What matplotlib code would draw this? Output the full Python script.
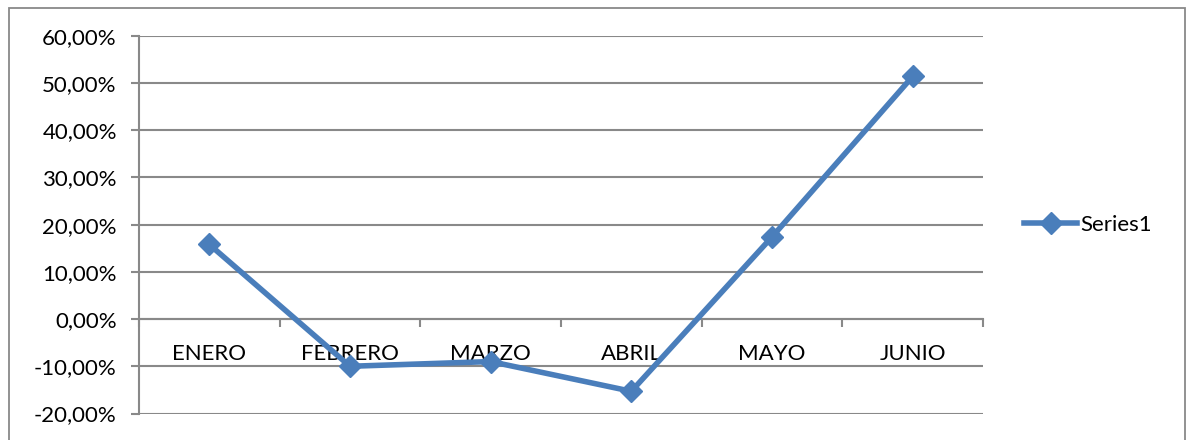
"""Monthly variation line chart (Excel-style), saved to out.png."""

import matplotlib

matplotlib.use("Agg")
import matplotlib.pyplot as plt
from matplotlib.patches import Rectangle
from matplotlib.ticker import FuncFormatter, MultipleLocator

# ---------------------------------------------------------------------------
# Data
# ---------------------------------------------------------------------------
MONTHS = ["ENERO", "FEBRERO", "MARZO", "ABRIL", "MAYO", "JUNIO"]
VARIATION = [0.158, -0.100, -0.090, -0.153, 0.174, 0.514]
SERIES_NAME = "Series1"

Y_MIN, Y_MAX, Y_STEP = -0.20, 0.60, 0.10

LINE_BLUE = "#4A7EBB"
GRID_GRAY = "#898989"
FONT = "Lato"
FS = 16


def pct_es(v, _pos):
    return f"{v * 100:.2f}%".replace(".", ",")


fig = plt.figure(figsize=(11.87, 4.40), dpi=100)
ax = fig.add_axes([139 / 1187, 26.5 / 440, 844 / 1187, 377.7 / 440])

x = list(range(len(MONTHS)))
ax.plot(x, VARIATION, color=LINE_BLUE, lw=4.0, marker="D", ms=11,
        mec=LINE_BLUE, mfc=LINE_BLUE, label=SERIES_NAME, zorder=4,
        solid_joinstyle="miter")

ax.set_xlim(-0.5, len(MONTHS) - 0.5)
ax.set_ylim(Y_MIN, Y_MAX)

# value axis
ax.yaxis.set_major_locator(MultipleLocator(Y_STEP))
ax.yaxis.set_major_formatter(FuncFormatter(pct_es))
ax.grid(axis="y", color=GRID_GRAY, lw=1.5, zorder=1)
ax.tick_params(axis="y", length=6, width=1.5, color=GRID_GRAY, pad=10,
               labelsize=FS)
for lab in ax.get_yticklabels():
    lab.set_family(FONT)

# category axis sits on the zero line, ticks at the category boundaries
ax.spines["bottom"].set_position(("data", 0))
ax.set_xticks([i - 0.5 for i in range(len(MONTHS) + 1)])
ax.set_xticklabels([])
ax.tick_params(axis="x", direction="out", length=6, width=1.5,
               color=GRID_GRAY)
for i, m in enumerate(MONTHS):
    ax.annotate(m, xy=(i, 0), xytext=(0, -18), textcoords="offset points",
                ha="center", va="top", fontsize=FS, family=FONT, zorder=3)

for side in ("top", "right"):
    ax.spines[side].set_visible(False)
for side in ("left", "bottom"):
    ax.spines[side].set_color(GRID_GRAY)
    ax.spines[side].set_linewidth(1.5)
ax.set_axisbelow(True)

leg = ax.legend(loc="center left", bbox_to_anchor=(1.025, 0.5), frameon=False,
                handlelength=2.4, handletextpad=0.12,
                prop={"family": FONT, "size": FS})

# chart frame
fig.patches.append(Rectangle((9 / 1187, -0.1), 1176 / 1187, 0.1 + 432.3 / 440,
                             transform=fig.transFigure, fill=False,
                             ec=GRID_GRAY, lw=1.3))

fig.savefig("out.png", dpi=100)
plt.close(fig)
